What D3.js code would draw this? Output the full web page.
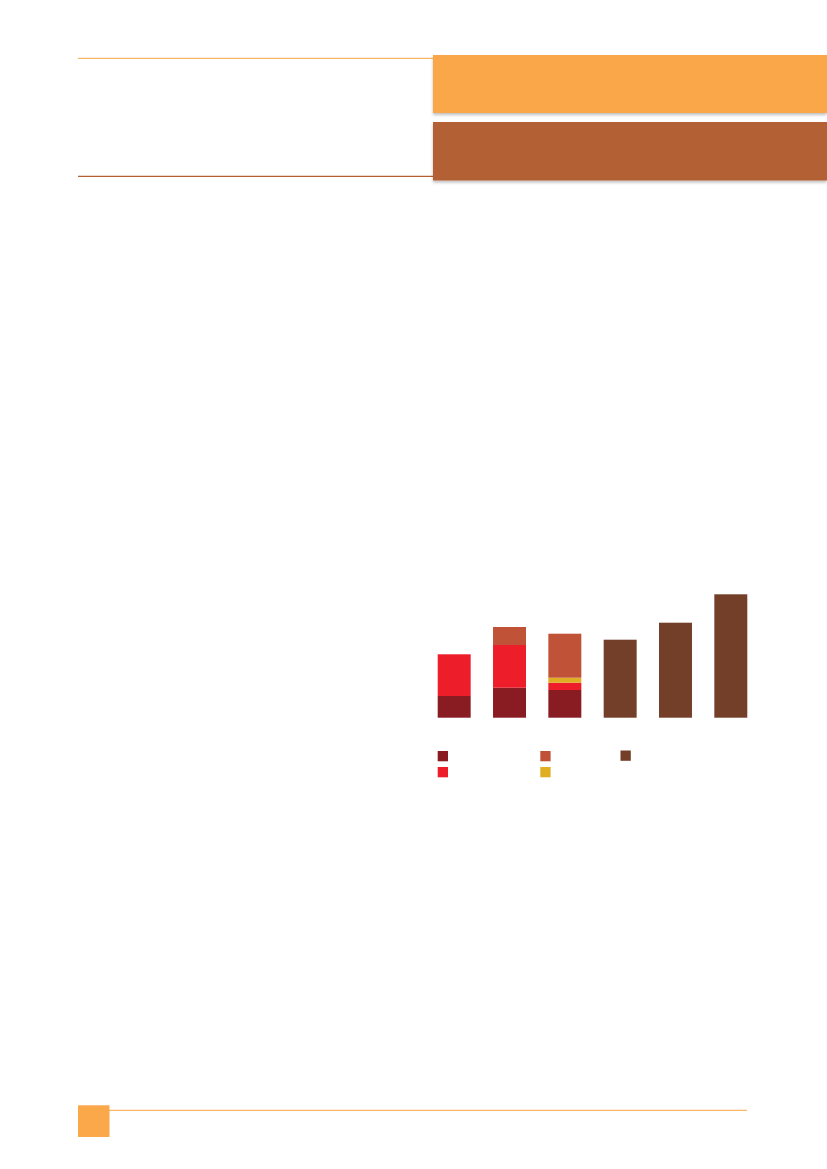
<!DOCTYPE html>
<html>
<head>
<meta charset="utf-8">
<script src="https://cdn.jsdelivr.net/npm/d3@7"></script>
<style>
  body { margin: 0; background: white; }
  svg { display: block; }
</style>
</head>
<body>
<div id="container"></div>
<script>
// chart data (arbitrary units)
let categories = ['c1', 'c2', 'c3', 'c4', 'c5', 'c6'];
let seriesKeys = ['s1', 's2', 's3', 's4', 's5'];
let s1 = [21.7, 30, 27.7, 0, 0, 0];
let s2 = [41.7, 42.7, 7.3, 0, 0, 0];
let s3 = [0, 0, 5, 0, 0, 0];
let s4 = [0, 18, 44, 0, 0, 0];
let s5 = [0, 0, 0, 78, 95, 123.4];
let seriesColors = ['#891C23', '#ED1D2A', '#E0AE22', '#C05337', '#733F28'];

let w = 827,
    h = 1169;

let viz = d3.select('#container')
    .append('svg')
      .attr('id', 'viz')
      .attr('width', w)
      .attr('height', h)
      .style('background', 'white')
;

function main() {
    let defs = viz.append('defs');
    let shadow = defs.append('filter')
        .attr('id', 'shadow')
        .attr('x', '-5%').attr('y', '-20%')
        .attr('width', '110%').attr('height', '150%');
    shadow.append('feDropShadow')
        .attr('dx', 0).attr('dy', 2)
        .attr('stdDeviation', 1.8)
        .attr('flood-color', '#000')
        .attr('flood-opacity', 0.25);

    // header
    viz.append('line')
        .attr('x1', 78).attr('x2', 433)
        .attr('y1', 58.3).attr('y2', 58.3)
        .attr('stroke', '#F9A443').attr('stroke-width', 1);
    viz.append('line')
        .attr('x1', 78).attr('x2', 433)
        .attr('y1', 176.3).attr('y2', 176.3)
        .attr('stroke', '#B5602F').attr('stroke-width', 1.2);
    viz.append('rect')
        .attr('x', 433).attr('y', 55)
        .attr('width', w - 433).attr('height', 58)
        .attr('fill', '#F9A748')
        .attr('filter', 'url(#shadow)');
    viz.append('rect')
        .attr('x', 433).attr('y', 122)
        .attr('width', w - 433).attr('height', 58.5)
        .attr('fill', '#B46034')
        .attr('filter', 'url(#shadow)');

    // footer
    viz.append('line')
        .attr('x1', 109).attr('x2', 747)
        .attr('y1', 1110.3).attr('y2', 1110.3)
        .attr('stroke', '#F9A443').attr('stroke-width', 1);
    viz.append('rect')
        .attr('x', 78).attr('y', 1105.3)
        .attr('width', 31.5).attr('height', 31.7)
        .attr('fill', '#FAA849');

    // chart
    let rows = categories.map(function(c, i) {
        return { cat: c, s1: s1[i], s2: s2[i], s3: s3[i], s4: s4[i], s5: s5[i] };
    });

    let x = d3.scaleBand()
        .domain(categories)
        .range([437.7, 747.3])
        .paddingInner(0.404)
        .paddingOuter(0);

    let y = d3.scaleLinear()
        .domain([0, 125])
        .range([717.7, 592.7]);

    let color = d3.scaleOrdinal()
        .domain(seriesKeys)
        .range(seriesColors);

    let stacked = d3.stack().keys(seriesKeys)(rows);

    let layers = viz.append('g')
        .selectAll('g')
        .data(stacked)
        .enter()
        .append('g')
          .attr('fill', function(d) { return color(d.key); });

    layers.selectAll('rect')
        .data(function(d) { return d.filter(function(p) { return p[1] > p[0]; }); })
        .enter()
        .append('rect')
          .attr('x', function(d) { return x(d.data.cat); })
          .attr('y', function(d) { return y(d[1]); })
          .attr('width', x.bandwidth())
          .attr('height', function(d) { return y(d[0]) - y(d[1]); });

    // legend swatches (no labels in the picture)
    let legendOrder = ['s1', 's2', 's4', 's3', 's5'];
    let legendPos = [[437.7, 751], [437.7, 767], [540.3, 751], [540.3, 767], [620.5, 750.5]];
    viz.append('g')
        .selectAll('rect')
        .data(legendOrder)
        .enter()
        .append('rect')
          .attr('x', function(d, i) { return legendPos[i][0]; })
          .attr('y', function(d, i) { return legendPos[i][1]; })
          .attr('width', 10.3)
          .attr('height', 10.3)
          .attr('fill', function(d) { return color(d); });
}

main();
</script>
</body>
</html>
